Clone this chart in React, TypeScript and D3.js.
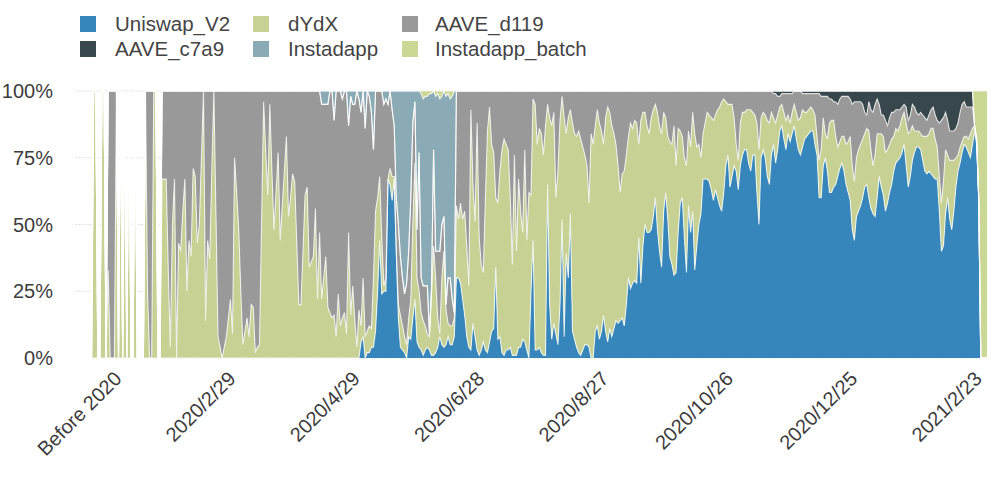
import React from 'react';
import * as d3 from 'd3';

const zeros = (n: number): number[] => new Array(n).fill(0);

// one value per day, share of volume (percent)
const uniswapV2 = [
  ...zeros(138),
  6,8,0,2,2,4,4,10,25,44,
  24,25,25,67,65,59,67,40,15,4,
  3,2,0,8,7,15,22,6,4,3,
  1,3,4,3,1,1,2,4,8,5,
  4,5,8,5,5,8,30,30,28,22,
  16,8,4,3,13,8,3,1,3,6,
  3,2,6,10,11,34,7,8,2,1,
  3,3,4,1,1,1,4,4,7,6,
  3,0,25,44,3,3,4,2,1,1,
  65,20,7,13,9,5,20,52,8,39,
  30,54,10,7,4,2,1,3,5,5,
  4,0,0,10,12,7,10,16,10,6,
  11,8,11,14,13,14,15,12,20,30,
  26,28,29,28,45,28,42,50,47,47,
  48,53,60,48,40,34,55,62,52,38,
  35,31,32,47,58,60,45,32,57,47,
  55,33,42,50,54,67,67,67,66,63,
  59,63,60,57,55,62,72,76,64,68,
  72,70,63,72,76,78,78,73,70,76,
  76,62,50,75,78,75,68,65,76,80,
  73,78,85,87,82,78,84,81,84,87,
  82,78,76,79,82,83,84,85,85,80,
  76,60,60,72,75,70,62,62,64,65,
  68,71,73,70,65,62,59,48,44,53,
  55,57,60,64,65,60,56,54,53,60,
  68,64,61,55,58,62,65,70,73,74,
  75,77,80,72,64,68,74,77,79,79,
  78,74,70,69,70,69,68,67,67,55,
  40,42,54,60,52,48,55,64,70,73,
  77,80,79,77,75,80,85,80,60,0,
  0,0,0,
];

const dYdX = [
  ...zeros(9),100,100,0,0,100,100,0,33,0,0,0,
  100,0,100,0,100,0,100,0,0,100,
  0,0,0,0,100,25,0,0,100,100,0,0,
  67,67,67,33,4,50,67,0,43,40,
  55,67,25,44,38,71,68,43,50,75,
  100,14,44,37,70,100,54,8,4,0,
  4,8,15,22,9,75,62,48,25,5,
  10,15,8,20,19,2,4,5,50,96,
  78,61,95,70,48,62,77,44,57,70,
  83,53,60,69,66,43,20,20,40,61,
  64,34,36,38,56,22,47,22,30,38,
  19,17,15,16,8,24,12,15,17,9,
  47,16,27,14,4,18,
  6,22,8,8,10,7,26,45,35,24,
  21,2,5,0,6,9,1,0,5,12,
  9,6,5,7,15,35,51,24,21,14,
  13,9,5,5,23,41,28,11,1,25,
  36,13,5,7,7,7,27,22,30,30,
  39,34,23,90,52,43,85,44,32,26,
  57,83,88,70,66,26,51,62,76,81,
  77,75,56,34,75,39,63,51,40,72,
  41,62,36,53,92,77,82,82,75,86,
  30,70,80,79,51,65,69,46,82,45,
  60,39,78,77,79,83,81,76,71,67,
  54,84,80,77,81,81,75,64,80,88,
  81,79,73,66,59,48,54,58,56,53,
  62,58,60,60,35,61,50,42,40,37,
  42,40,35,44,47,50,37,28,31,43,
  45,56,40,39,27,23,30,40,28,32,
  37,51,37,30,21,17,21,25,25,27,
  30,28,33,37,41,35,24,19,31,27,
  18,10,11,16,16,14,15,20,23,16,
  15,26,28,15,14,16,21,23,16,10,
  15,13,9,8,10,11,7,7,8,8,
  10,11,14,14,10,9,9,9,8,11,
  7,14,18,18,9,12,26,27,25,18,
  11,10,10,13,15,19,24,24,22,22,
  23,23,22,20,21,25,22,18,23,24,
  16,20,22,22,20,18,17,13,13,11,
  12,13,12,16,20,17,13,8,6,6,
  6,9,13,14,14,17,18,15,12,13,
  18,24,24,16,22,26,19,11,6,6,
  4,3,4,5,9,6,2,2,0,0,
  0,0,0,
];

const aaveD119 = [
  ...zeros(16),67,100,100,100,...zeros(15),75,100,100,...zeros(4),
  33,33,33,67,96,50,33,100,57,60,
  45,33,75,56,62,29,32,57,50,25,
  0,86,56,63,30,0,46,92,96,100,
  96,92,85,78,91,25,38,52,75,95,
  90,85,92,80,81,98,96,95,50,4,
  22,39,5,30,52,38,23,56,43,30,
  17,47,40,31,34,57,80,80,60,39,
  36,66,64,62,44,78,53,73,65,57,
  76,83,85,73,92,76,88,82,83,91,
  40,82,68,81,96,79,80,70,78,90,
  86,81,48,45,40,32,55,68,67,28,
  29,25,19,20,30,22,18,16,23,25,
  38,38,23,18,52,13,13,15,18,1,
  2,36,10,25,31,20,13,2,17,18,
  10,2,43,48,42,48,45,58,73,7,
  35,49,12,55,65,68,40,15,6,20,
  23,40,42,30,22,18,20,22,40,65,
  24,60,33,45,53,22,56,38,39,3,
  5,20,14,16,24,13,5,10,13,8,
  40,30,11,2,10,16,10,7,12,16,
  17,15,18,21,24,28,42,16,20,13,
  7,12,15,20,10,6,8,13,16,20,
  28,38,31,30,24,17,12,14,11,12,
  20,11,8,8,13,16,10,7,5,8,
  13,16,8,10,17,19,20,13,28,14,
  15,17,25,28,15,21,8,16,21,20,
  25,16,12,8,9,10,11,9,7,6,
  4,3,4,5,5,5,10,20,26,12,
  8,8,7,7,7,8,9,12,22,10,
  8,9,11,12,8,9,11,7,4,4,
  7,10,8,11,7,5,8,11,10,6,
  7,7,6,5,6,8,16,25,20,8,
  14,16,9,8,7,13,16,16,15,15,
  18,17,14,23,30,21,18,16,13,8,
  5,11,15,20,19,13,11,7,8,12,
  9,10,10,9,7,8,6,4,3,6,
  5,6,8,9,7,6,8,8,7,6,
  7,7,8,9,10,20,31,24,14,13,
  11,11,11,11,12,13,14,13,11,12,
  10,8,0,0,0,0,0,0,0,
];

const aaveC7a9 = [
  ...zeros(337),
  1,1,2,2,1,1,1,1,1,1,
  0,0,0,0,1,1,1,1,1,1,
  1,1,1,2,2,2,2,3,3,4,
  4,5,3,2,2,2,2,3,5,4,
  4,4,4,5,8,9,4,7,8,5,
  3,5,9,9,11,13,10,8,8,7,
  7,7,6,5,6,11,9,5,6,8,
  9,8,9,10,11,9,7,6,9,11,
  12,11,10,8,11,15,15,15,14,12,
  8,5,4,6,6,6,6,
  ...zeros(7),
];

const instadapp = [
  ...zeros(119),
  5,5,5,5,0,0,11,0,0,0,
  3,0,0,13,2,5,5,0,3,8,
  0,14,0,2,8,22,0,0,0,0,
  5,3,5,0,7,
  13,40,50,62,70,76,72,60,40,12,
  4,52,23,69,70,71,71,90,73,22,
  58,59,57,48,47,78,69,67,76,83,
  ...zeros(257),
];

const instadappBatch = [
  ...zeros(167),
  1,3,2,2,1,1,0,2,1,3,2,0,2,1,3,2,0,
  ...zeros(250),
  13,18,40,100,100,100,100,
];

const seriesNames = ['Uniswap_V2', 'dYdX', 'AAVE_d119', 'AAVE_c7a9', 'Instadapp', 'Instadapp_batch'];
const seriesValues = [uniswapV2, dYdX, aaveD119, aaveC7a9, instadapp, instadappBatch];
const seriesColors = ['#3686bb', '#c7d193', '#999999', '#38474c', '#8aabb5', '#cbd794'];

// legend reads row by row, three columns
const legendRows = [
  ['Uniswap_V2', 'dYdX', 'AAVE_d119'],
  ['AAVE_c7a9', 'Instadapp', 'Instadapp_batch'],
];

const tickDays = [25, 80, 140, 200, 260, 320, 380, 440];
const tickLabels = ['Before 2020', '2020/2/29', '2020/4/29', '2020/6/28', '2020/8/27', '2020/10/26', '2020/12/25', '2021/2/23'];
const yTicks = [0, 0.25, 0.5, 0.75, 1];

const width = 1000;
const height = 478;
const font = '"Liberation Sans", Arial, sans-serif';

const App = () => {
  const days = d3.range(uniswapV2.length);
  const x = d3.scaleLinear().domain([0, days.length - 1]).range([75, 987]);
  const y = d3.scaleLinear().domain([0, 1]).range([358, 91]);

  const stack = d3.stack<number>()
    .keys(d3.range(seriesNames.length).map(String))
    .value((d, key) => seriesValues[+key][d] ?? 0)
    .offset(d3.stackOffsetExpand);
  const layers = stack(days);

  const area = d3.area<any>()
    .x(d => x(d.data))
    .y0(d => y(d[0]))
    .y1(d => y(d[1]));
  const topLine = d3.line<any>()
    .x(d => x(d.data))
    .y(d => y(d[1]));

  const legendColumns = d3.scaleOrdinal<number, number>().domain([0, 1, 2]).range([80, 253, 402]);
  const legendText = d3.scaleOrdinal<number, number>().domain([0, 1, 2]).range([115, 288, 435]);

  return (
    <svg width={width} height={height} style={{ position: 'absolute', left: 0, top: 0, background: '#fff' }} fontFamily={font}>
      {yTicks.map(t => (
        <line key={t} x1={75} x2={987} y1={y(t)} y2={y(t)} stroke="#e2e2e2" strokeWidth={1} strokeDasharray="2 1" />
      ))}
      {layers.map((layer, i) => (
        <path key={seriesNames[i]} d={area(layer) ?? ''} fill={seriesColors[i]} stroke="none" />
      ))}
      {layers.map((layer, i) => (
        <path key={seriesNames[i]} d={topLine(layer) ?? ''} fill="none" stroke="#fff" strokeOpacity={0.75} strokeWidth={1.1} />
      ))}
      {yTicks.map(t => (
        <text key={t} x={53} y={y(t)} dy="0.36em" textAnchor="end" fontSize={20} fill="#3c3c3c">
          {d3.format('.0%')(t)}
        </text>
      ))}
      {tickDays.map((day, i) => (
        <text
          key={day}
          textAnchor="end"
          fontSize={20}
          fill="#3c3c3c"
          transform={`translate(${x(day) - 4},${380}) rotate(-45)`}
        >
          {tickLabels[i]}
        </text>
      ))}
      {legendRows.map((row, r) =>
        row.map((name, c) => (
          <g key={name}>
            <rect x={legendColumns(c)} y={16 + r * 25} width={16} height={16} fill={seriesColors[seriesNames.indexOf(name)]} />
            <text x={legendText(c)} y={24 + r * 25} dy="0.36em" fontSize={20.5} fill="#444">
              {name}
            </text>
          </g>
        ))
      )}
    </svg>
  );
};

export default App;
